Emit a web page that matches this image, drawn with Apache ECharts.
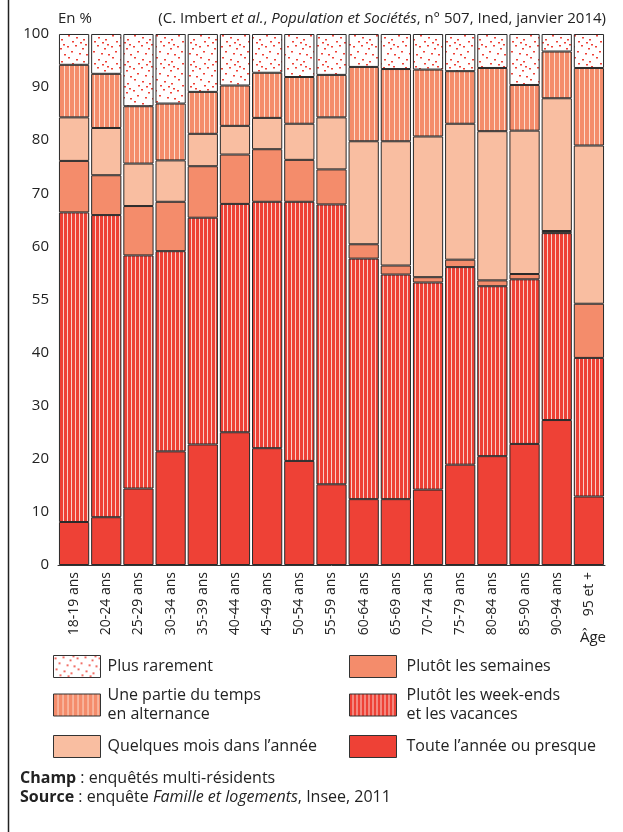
<!DOCTYPE html>
<html>
<head>
<meta charset="utf-8">
<script src="https://cdn.jsdelivr.net/npm/echarts@6/dist/echarts.min.js"></script>
<style>
  html, body { margin: 0; padding: 0; background: #fff; }
  #chart { width: 623px; height: 832px; }
</style>
</head>
<body>
<div id="chart"></div>
<script>
// catégories d'âge
var categories = ['18-19 ans', '20-24 ans', '25-29 ans', '30-34 ans', '35-39 ans', '40-44 ans',
  '45-49 ans', '50-54 ans', '55-59 ans', '60-64 ans', '65-69 ans', '70-74 ans', '75-79 ans',
  '80-84 ans', '85-90 ans', '90-94 ans', '95 et +'];
// libellés de l'axe (tels qu'imprimés dans la figure)
var yTickLabels = ['0', '10', '20', '30', '40', '55', '60', '70', '80', '90', '100'];

// valeurs en %, du bas vers le haut de la pile
var touteAnnee   = [8.1, 9.0, 14.4, 21.4, 22.7, 25.0, 22.0, 19.6, 15.2, 12.4, 12.4, 14.2, 18.9, 20.5, 22.8, 27.3, 12.9];
var weekEnds     = [58.3, 56.9, 43.9, 37.7, 42.7, 43.0, 46.4, 48.8, 52.7, 45.3, 42.3, 39.0, 37.2, 32.0, 31.0, 35.2, 26.1];
var semaines     = [9.7, 7.5, 9.3, 9.3, 9.7, 9.3, 9.9, 7.9, 6.6, 2.7, 1.7, 1.0, 1.4, 1.1, 1.0, 0.4, 10.2];
var quelquesMois = [8.2, 8.9, 8.0, 7.8, 6.1, 5.4, 5.9, 6.8, 9.8, 19.4, 23.4, 26.5, 25.6, 28.1, 27.0, 25.0, 29.8];
var alternance   = [9.9, 10.2, 10.8, 10.7, 7.9, 7.6, 8.5, 8.8, 8.0, 14.0, 13.6, 12.6, 9.9, 11.9, 8.6, 8.8, 14.6];
var rarement     = [5.8, 7.5, 13.6, 13.1, 10.9, 9.7, 7.3, 8.1, 7.7, 6.2, 6.6, 6.7, 7.0, 6.4, 9.6, 3.3, 6.4];

var FONT = '"Open Sans", sans-serif';

// motifs de remplissage
function stripes(bg, line, w) {
  var c = document.createElement('canvas');
  c.width = w; c.height = 8;
  var ctx = c.getContext('2d');
  ctx.fillStyle = bg; ctx.fillRect(0, 0, w, 8);
  ctx.fillStyle = line; ctx.fillRect(w - 1, 0, 1, 8);
  return { image: c, repeat: 'repeat' };
}
function dots() {
  var c = document.createElement('canvas');
  c.width = 22; c.height = 22;
  var ctx = c.getContext('2d');
  ctx.fillStyle = '#fff'; ctx.fillRect(0, 0, 22, 22);
  ctx.fillStyle = '#EE4136';
  var pts = [[1, 2], [9, 1], [16, 4], [5, 7], [13, 9], [20, 10], [2, 13], [10, 15], [17, 17], [6, 19], [14, 20], [19, 0]];
  pts.forEach(function (p) { ctx.fillRect(p[0], p[1], 2, 1.5); });
  return { image: c, repeat: 'repeat' };
}

var RED = '#EE4136';
var SALMON = '#F48C6B';
var PEACH = '#F9BEA1';

function bar(name, data, color) {
  return {
    name: name,
    type: 'bar',
    stack: 'total',
    barCategoryGap: '6%',
    data: data,
    itemStyle: { color: color, borderColor: '#2a2a2a', borderWidth: 1 },
    emphasis: { disabled: true }
  };
}

var series = [
  bar('Toute l\u2019année ou presque', touteAnnee, RED),
  bar('Plutôt les week-ends\net les vacances', weekEnds, stripes(RED, '#F9CFC9', 4)),
  bar('Plutôt les semaines', semaines, SALMON),
  bar('Quelques mois dans l\u2019année', quelquesMois, PEACH),
  bar('Une partie du temps\nen alternance', alternance, stripes(SALMON, '#FCDCCD', 5)),
  bar('Plus rarement', rarement, dots())
];

function legendItem(name, left, top, gap) {
  return {
    data: [name],
    left: left,
    top: top,
    padding: 0,
    icon: 'rect',
    itemWidth: 47,
    itemHeight: 22,
    selectedMode: false,
    itemStyle: { borderColor: '#333', borderWidth: 1 },
    textStyle: { fontFamily: FONT, fontSize: 16, color: '#222', lineHeight: 19, padding: [0, 0, 0, gap] }
  };
}

var chart = echarts.init(document.getElementById('chart'));
chart.setOption({
  animation: false,
  grid: { left: 58, right: 18, top: 34, bottom: 267, outerBoundsMode: 'none' },
  xAxis: {
    type: 'category',
    data: categories,
    axisLine: { lineStyle: { color: '#333', width: 1 } },
    axisTick: { length: 13, lineStyle: { color: '#333' } },
    axisLabel: { rotate: 90, margin: 7, fontFamily: FONT, fontSize: 14, color: '#222' }
  },
  yAxis: {
    type: 'value',
    min: 0,
    max: 100,
    interval: 10,
    axisLine: { show: false },
    axisTick: { show: false },
    splitLine: { show: false },
    axisLabel: {
      margin: 9,
      fontFamily: FONT,
      fontSize: 15,
      color: '#222',
      formatter: function (v) { return yTickLabels[Math.round(v / 10)]; }
    }
  },
  legend: [
    legendItem('Plus rarement', 53, 655, 2),
    legendItem('Une partie du temps\nen alternance', 53, 686, 2),
    legendItem('Quelques mois dans l\u2019année', 53, 735, 2),
    legendItem('Plutôt les semaines', 349, 655, 5),
    legendItem('Plutôt les week-ends\net les vacances', 349, 686, 5),
    legendItem('Toute l\u2019année ou presque', 349, 735, 5)
  ],
  graphic: [
    { type: 'line', shape: { x1: 8.5, y1: 0, x2: 8.5, y2: 832 }, style: { stroke: '#222', lineWidth: 1.5 } },
    { type: 'text', left: 58, top: 11, style: { text: 'En %', font: '15px ' + FONT, fill: '#222' } },
    {
      type: 'text', right: 17, top: 11,
      style: {
        text: '{n|(C. Imbert }{i|et al.}{n|, }{i|Population et Sociétés}{n|, n° 507, Ined, janvier 2014)}',
        rich: {
          n: { fontFamily: FONT, fontSize: 15, fill: '#222' },
          i: { fontFamily: FONT, fontSize: 15, fontStyle: 'italic', fill: '#222' }
        }
      }
    },
    { type: 'text', right: 17, top: 630, style: { text: 'Âge', font: '15px ' + FONT, fill: '#222' } },
    {
      type: 'text', left: 20, top: 769,
      style: {
        text: '{b|Champ}{n| : enquêtés multi-résidents}\n{b|Source}{n| : enquête }{i|Famille et logements}{n|, Insee, 2011}',
        lineHeight: 19,
        rich: {
          n: { fontFamily: FONT, fontSize: 16, fill: '#222', lineHeight: 19 },
          b: { fontFamily: FONT, fontSize: 16, fontWeight: 'bold', fill: '#222', lineHeight: 19 },
          i: { fontFamily: FONT, fontSize: 16, fontStyle: 'italic', fill: '#222', lineHeight: 19 }
        }
      }
    }
  ],
  series: series
});
</script>
</body>
</html>
